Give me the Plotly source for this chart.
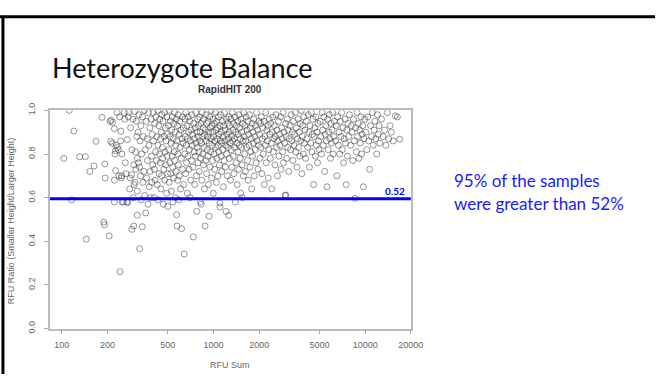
import plotly.graph_objects as go

# ---------------- data ----------------
points = [
    # 100-200
    (103,0.78),(112,1.0),(116,0.59),(120,0.905),(131,0.787),(143,0.788),(145,0.41),(153,0.72),
    (163,0.745),(168,0.858),(184,0.968),(189,0.488),(191,0.476),(192,0.754),(193,0.69),
    # 200-251
    (205,0.425),(208,0.95),(212,0.955),(210,0.858),(215,0.85),(216,0.945),(222,0.916),(222,0.58),
    (224,0.8),(226,0.815),(226,0.724),(222,0.68),(228,0.84),(232,0.99),(233,0.83),(236,0.82),
    (238,0.7),(240,0.97),(242,0.261),(244,0.86),(246,0.69),(248,0.7),(249,0.8),(250,0.58),(245,0.905),
    # 251-316
    (255,0.58),(258,0.99),(260,0.96),(262,0.76),(265,0.71),(268,0.58),(270,0.866),(272,0.578),
    (274,0.97),(276,0.99),(289,0.455),(280,0.64),(282,0.69),(284,0.92),(298,0.47),(288,0.705),
    (290,0.82),(314,0.52),(294,0.96),(296,0.6),(298,0.75),(300,0.66),(302,0.995),(304,0.67),
    (306,0.81),(308,0.73),(310,0.95),(312,0.88),(314,0.63),(315,0.78),
    # 316-398
    (318,0.9),(320,0.76),(322,0.98),(325,0.74),(326,0.366),(328,0.86),(330,0.7),(332,0.93),
    (334,0.59),(336,0.8),(339,0.467),(340,0.97),(343,0.67),(345,0.88),(347,0.72),(350,1.0),
    (352,0.61),(355,0.82),(357,0.53),(360,0.95),(362,0.69),(365,0.87),(367,0.77),(370,0.57),
    (372,0.99),(375,0.84),(377,0.65),(380,0.92),(382,0.72),(385,0.6),(388,0.96),(390,0.79),
    (392,0.67),(395,0.89),(397,0.75),
    # 398-501
    (400,0.99),(402,0.86),(405,0.6),(407,0.73),(410,0.94),(412,0.68),(415,0.81),(417,0.97),
    (420,0.77),(422,0.88),(425,0.66),(428,1.0),(430,0.84),(432,0.59),(435,0.93),(437,0.71),
    (440,0.8),(442,0.96),(445,0.76),(447,0.87),(450,0.64),(452,0.9),(455,0.7),(457,0.98),
    (460,0.83),(462,0.78),(465,0.95),(467,0.57),(470,0.73),(472,0.88),(475,0.99),(477,0.68),
    (480,0.81),(482,0.92),(485,0.75),(487,0.86),(490,0.62),(492,0.97),(495,0.79),(497,0.89),
    (500,0.56),(499,0.71),
    # 501-631
    (505,0.93),(508,0.82),(510,0.67),(512,1.0),(515,0.76),(518,0.88),(520,0.95),(522,0.71),
    (525,0.85),(528,0.63),(530,0.91),(533,0.79),(535,0.97),(538,0.74),(540,0.58),(543,0.87),
    (545,0.69),(548,0.94),(550,0.81),(553,0.99),(555,0.77),(558,0.9),(560,0.6),(563,0.84),
    (565,0.72),(568,0.96),(571,0.522),(573,0.86),(575,0.47),(578,0.93),(580,0.68),(583,0.8),
    (586,0.98),(588,0.75),(590,0.59),(593,0.89),(596,0.7),(600,0.95),(603,0.83),(606,0.64),
    (610,0.91),(613,0.78),(616,0.458),(620,0.87),(623,0.97),(626,0.73),(629,0.85),
    # 631-794
    (633,0.92),(636,0.66),(641,0.342),(645,0.8),(648,0.96),(651,0.88),(655,0.71),(658,0.99),
    (661,0.84),(665,0.76),(668,0.93),(672,0.62),(675,0.87),(679,0.79),(682,0.97),(686,0.9),
    (690,0.73),(693,0.82),(697,0.95),(700,0.6),(704,0.86),(708,0.68),(712,0.91),(716,0.77),
    (720,0.98),(724,0.84),(728,0.89),(732,0.74),(736,0.42),(740,0.94),(744,0.81),(748,0.87),
    (752,0.66),(756,0.92),(760,0.79),(764,0.99),(768,0.85),(772,0.7),(774,0.537),(778,0.9),
    (782,0.83),(786,0.96),(790,0.76),(793,0.88),
    # 794-1000
    (797,0.93),(801,0.81),(805,0.72),(809,0.97),(813,0.86),(817,0.9),(820,0.58),(824,0.78),
    (828,0.94),(830,0.57),(834,0.85),(838,0.68),(842,0.99),(846,0.88),(850,0.8),(855,0.92),
    (859,0.75),(863,0.96),(867,0.83),(871,0.64),(875,0.89),(880,0.47),(884,0.91),(888,0.77),
    (892,0.98),(896,0.86),(900,0.71),(905,0.94),(909,0.82),(913,0.88),(918,0.79),(922,0.95),
    (926,0.66),(930,0.9),(935,0.515),(939,0.85),(943,0.97),(948,0.74),(952,0.92),(957,0.81),
    (961,0.87),(966,1.0),(970,0.69),(975,0.93),(979,0.84),(984,0.77),(988,0.9),(993,0.96),(997,0.62),
    # 1000-1259
    (1003,0.88),(1008,0.8),(1013,0.94),(1018,0.73),(1023,0.86),(1028,0.99),(1033,0.83),(1038,0.91),
    (1043,0.67),(1048,0.95),(1053,0.78),(1058,0.87),(1063,0.92),(1068,0.7),(1073,0.84),(1078,0.97),
    (1083,0.81),(1088,0.89),(1094,0.75),(1100,0.575),(1102,0.557),(1105,0.93),(1110,0.86),(1116,0.98),
    (1121,0.79),(1127,0.9),(1133,0.72),(1138,0.85),(1144,0.95),(1150,0.82),(1156,0.88),(1162,0.65),
    (1168,0.93),(1174,0.77),(1180,0.99),(1186,0.86),(1192,0.91),(1198,0.74),(1204,0.84),(1210,0.537),
    (1216,0.96),(1222,0.8),(1228,0.89),(1234,0.7),(1240,0.94),(1246,0.83),(1252,0.87),(1258,0.97),
    # 1259-1585
    (1260,0.519),(1266,0.9),(1273,0.78),(1280,0.93),(1287,0.85),(1294,0.68),(1301,0.96),(1308,0.82),
    (1315,0.88),(1322,0.74),(1329,0.99),(1336,0.86),(1343,0.91),(1350,0.79),(1357,0.94),(1364,0.71),
    (1371,0.87),(1378,0.83),(1386,0.97),(1393,0.58),(1400,0.9),(1408,0.76),(1416,0.93),(1424,0.85),
    (1432,0.66),(1440,0.95),(1448,0.81),(1456,0.89),(1464,0.73),(1472,0.98),(1480,0.84),(1488,0.92),
    (1496,0.78),(1504,0.87),(1512,0.62),(1520,0.96),(1529,0.83),(1537,0.9),(1546,0.75),(1550,0.6),
    (1555,0.94),(1564,0.86),(1573,0.7),(1582,0.99),
    # 1585-1995
    (1592,0.88),(1602,0.8),(1612,0.93),(1622,0.72),(1632,0.86),(1642,0.97),(1652,0.83),(1662,0.91),
    (1672,0.77),(1683,0.95),(1694,0.68),(1705,0.89),(1716,0.84),(1727,0.98),(1738,0.74),(1749,0.92),
    (1760,0.81),(1772,0.87),(1784,0.64),(1796,0.94),(1808,0.79),(1820,0.9),(1832,0.85),(1845,0.96),
    (1858,0.7),(1871,0.88),(1884,0.82),(1897,0.93),(1910,0.76),(1923,0.99),(1937,0.86),(1951,0.91),
    (1965,0.73),(1979,0.84),(1993,0.95),
    # 1995-2512
    (2010,0.89),(2025,0.78),(2040,0.94),(2055,0.83),(2070,0.97),(2085,0.71),(2100,0.87),(2116,0.92),
    (2132,0.8),(2148,0.95),(2164,0.66),(2180,0.88),(2196,0.84),(2212,0.99),(2229,0.76),(2246,0.91),
    (2263,0.86),(2280,0.93),(2297,0.69),(2315,0.82),(2333,0.96),(2351,0.89),(2369,0.78),(2387,0.94),
    (2405,0.85),(2423,0.64),(2442,0.9),(2461,0.97),(2480,0.81),(2499,0.87),
    # 2512-3162
    (2520,0.93),(2540,0.75),(2560,0.88),(2580,0.98),(2600,0.83),(2620,0.91),(2640,0.7),(2660,0.86),
    (2681,0.95),(2702,0.79),(2723,0.89),(2744,0.84),(2765,0.97),(2787,0.73),(2809,0.92),(2831,0.87),
    (2853,0.81),(2875,0.99),(2897,0.76),(2920,0.9),(2943,0.85),(2966,0.61),(2990,0.94),(3000,0.612),
    (3013,0.88),(3037,0.78),(3061,0.96),(3085,0.83),(3109,0.91),(3133,0.72),(3158,0.87),
    # 3162-3981
    (3190,0.93),(3220,0.82),(3250,0.98),(3280,0.86),(3310,0.9),(3340,0.77),(3370,0.95),(3400,0.84),
    (3430,0.89),(3460,0.99),(3490,0.81),(3520,0.92),(3550,0.74),(3580,0.87),(3610,0.96),(3640,0.83),
    (3670,0.9),(3700,0.79),(3730,0.94),(3760,0.86),(3790,1.0),(3820,0.71),(3850,0.88),(3880,0.93),
    (3910,0.8),(3940,0.97),(3970,0.85),
    # 3981-5012
    (4010,0.91),(4050,0.78),(4090,0.95),(4130,0.87),(4170,0.83),(4210,0.98),(4250,0.9),(4290,0.74),
    (4330,0.93),(4370,0.85),(4410,0.99),(4450,0.81),(4490,0.89),(4530,0.96),(4570,0.66),(4610,0.88),
    (4650,0.92),(4690,0.79),(4730,0.97),(4770,0.84),(4810,0.9),(4850,0.76),(4890,0.94),(4930,0.86),
    (4970,0.82),
    # 5012-6310
    (5050,0.95),(5100,0.88),(5150,0.8),(5200,0.99),(5250,0.91),(5300,0.84),(5350,0.97),(5400,0.72),
    (5450,0.89),(5500,0.93),(5550,0.86),(5600,0.65),(5650,0.96),(5700,0.82),(5750,0.9),(5800,0.98),
    (5850,0.87),(5900,0.78),(5950,0.94),(6000,0.85),(6050,0.91),(6100,0.99),(6150,0.8),(6200,0.88),
    (6250,0.95),
    # 6310-7943
    (6370,0.86),(6440,0.93),(6510,0.7),(6580,0.97),(6650,0.84),(6720,0.9),(6790,0.8),(6860,0.95),
    (6930,0.88),(7000,0.99),(7070,0.82),(7140,0.92),(7210,0.76),(7280,0.87),(7350,0.96),(7420,0.85),
    (7490,0.66),(7560,0.91),(7630,0.79),(7700,0.94),(7780,0.88),(7860,0.98),
    # 7943-10000
    (8020,0.84),(8110,0.93),(8200,0.9),(8290,0.77),(8380,0.96),(8470,0.86),(8560,0.597),(8650,0.92),
    (8740,0.81),(8830,0.99),(8920,0.88),(9010,0.94),(9100,0.78),(9190,0.91),(9280,0.85),(9370,0.97),
    (9460,0.8),(9550,0.89),(9640,0.93),(9730,0.65),(9820,0.87),(9910,0.96),
    # 10000-12589
    (10100,0.9),(10250,0.82),(10400,0.97),(10550,0.86),(10700,0.73),(10850,0.93),(11000,0.88),
    (11150,0.99),(11300,0.84),(11450,0.91),(11600,0.95),(11750,0.87),(11900,0.8),(12050,0.98),
    (12200,0.89),(12350,0.93),(12500,0.85),
    # 12589-17800
    (12800,0.96),(13100,0.88),(13400,0.91),(13700,0.84),(14000,0.99),(14300,0.87),(14600,0.93),
    (14900,0.9),(15300,0.86),(15800,0.975),(16300,0.97),(16900,0.868),
]
rfu_sum = [p[0] for p in points]
rfu_ratio = [p[1] for p in points]

x_ticks = [100, 200, 500, 1000, 2000, 5000, 10000, 20000]
x_tick_labels = ["100", "200", "500", "1000", "2000", "5000", "10000", "20000"]
y_ticks = [0.0, 0.2, 0.4, 0.6, 0.8, 1.0]
y_tick_labels = ["0.0", "0.2", "0.4", "0.6", "0.8", "1.0"]
threshold_line = 0.595
threshold_label = "0.52"

slide_title = "Heterozygote Balance"
plot_title = "RapidHIT 200"
x_title = "RFU Sum"
y_title = "RFU Ratio (Smaller Height/Larger Height)"
note_lines = ["95% of the samples", "were greater than 52%"]

# ---------------- layout geometry ----------------
W, H = 668, 379
L, R, T, B = 51, 419, 106, 332

fig = go.Figure()
fig.add_trace(go.Scatter(
    x=rfu_sum, y=rfu_ratio, mode="markers",
    marker=dict(symbol="circle-open", size=6, color="rgba(50,50,50,0.5)",
                line=dict(width=1, color="rgba(50,50,50,0.5)")),
    showlegend=False, hoverinfo="x+y"))

fig.add_shape(type="line", xref="x domain", yref="y", x0=0, x1=1,
              y0=threshold_line, y1=threshold_line,
              line=dict(color="#0000ff", width=3))

axis_font = dict(family="Liberation Sans, Arial", size=9, color="#666666")
fig.update_layout(
    width=W, height=H, margin=dict(l=0, r=0, t=0, b=0),
    paper_bgcolor="white", plot_bgcolor="white",
    xaxis=dict(type="log", range=[1.922, 4.301], domain=[L / W, R / W],
               tickvals=x_ticks, ticktext=x_tick_labels, ticks="outside",
               ticklen=4, tickcolor="#aaaaaa", showgrid=False, zeroline=False,
               showline=True, linecolor="#bbbbbb", linewidth=1.5, mirror=True,
               tickfont=axis_font, ticklabelstandoff=3),
    yaxis=dict(range=[0, 1], domain=[1 - B / H, 1 - T / H],
               tickvals=y_ticks, ticktext=y_tick_labels, ticks="outside",
               ticklen=4, tickcolor="#aaaaaa", showgrid=False, zeroline=False,
               showline=True, linecolor="#bbbbbb", linewidth=1.5, mirror=True,
               tickangle=-90, tickfont=axis_font, ticklabelstandoff=6),
)

# slide border (top and left)
fig.add_shape(type="line", xref="paper", yref="paper", x0=0, x1=1,
              y0=1 - 9 / H, y1=1 - 9 / H, line=dict(color="black", width=3))
fig.add_shape(type="line", xref="paper", yref="paper", x0=3 / W, x1=3 / W,
              y0=0, y1=1 - 8 / H, line=dict(color="black", width=3))

ann = []
ann.append(dict(text=slide_title, x=51 / W, y=1 - 62 / H, xref="paper", yref="paper",
                xanchor="left", yanchor="middle", showarrow=False,
                font=dict(family="Lato, Open Sans", size=27, color="#111111")))
ann.append(dict(text="<b>" + plot_title + "</b>", x=235 / W, y=1 - 84 / H,
                xref="paper", yref="paper", xanchor="center", yanchor="middle",
                showarrow=False, font=dict(family="Liberation Sans, Arial", size=10, color="#333333")))
ann.append(dict(text=x_title, x=235 / W, y=1 - 370 / H, xref="paper", yref="paper",
                xanchor="center", yanchor="middle", showarrow=False, font=axis_font))
ann.append(dict(text=y_title, x=12 / W, y=1 - 220 / H, xref="paper", yref="paper",
                xanchor="center", yanchor="middle", textangle=-90, showarrow=False,
                font=axis_font))
ann.append(dict(text="<b>" + threshold_label + "</b>", x=415 / W, y=1 - 190 / H,
                xref="paper", yref="paper", xanchor="right", yanchor="middle",
                showarrow=False, font=dict(family="Lato, Open Sans", size=10, color="#0000ff")))
for i, line in enumerate(note_lines):
    ann.append(dict(text=line, x=461 / W, y=1 - (179 + 23 * i) / H, xref="paper", yref="paper",
                    xanchor="left", yanchor="middle", showarrow=False,
                    font=dict(family="Lato, Open Sans", size=17, color="#1a1aff")))
fig.update_layout(annotations=ann)

fig.write_html("out.html", config={"displayModeBar": False},
               post_script="document.body.style.margin='0';document.body.style.padding='0';"
                           "document.body.style.overflow='hidden';"
                           "var d=document.getElementById('{plot_id}');"
                           "d.style.position='fixed';d.style.top='0px';d.style.left='0px';")
